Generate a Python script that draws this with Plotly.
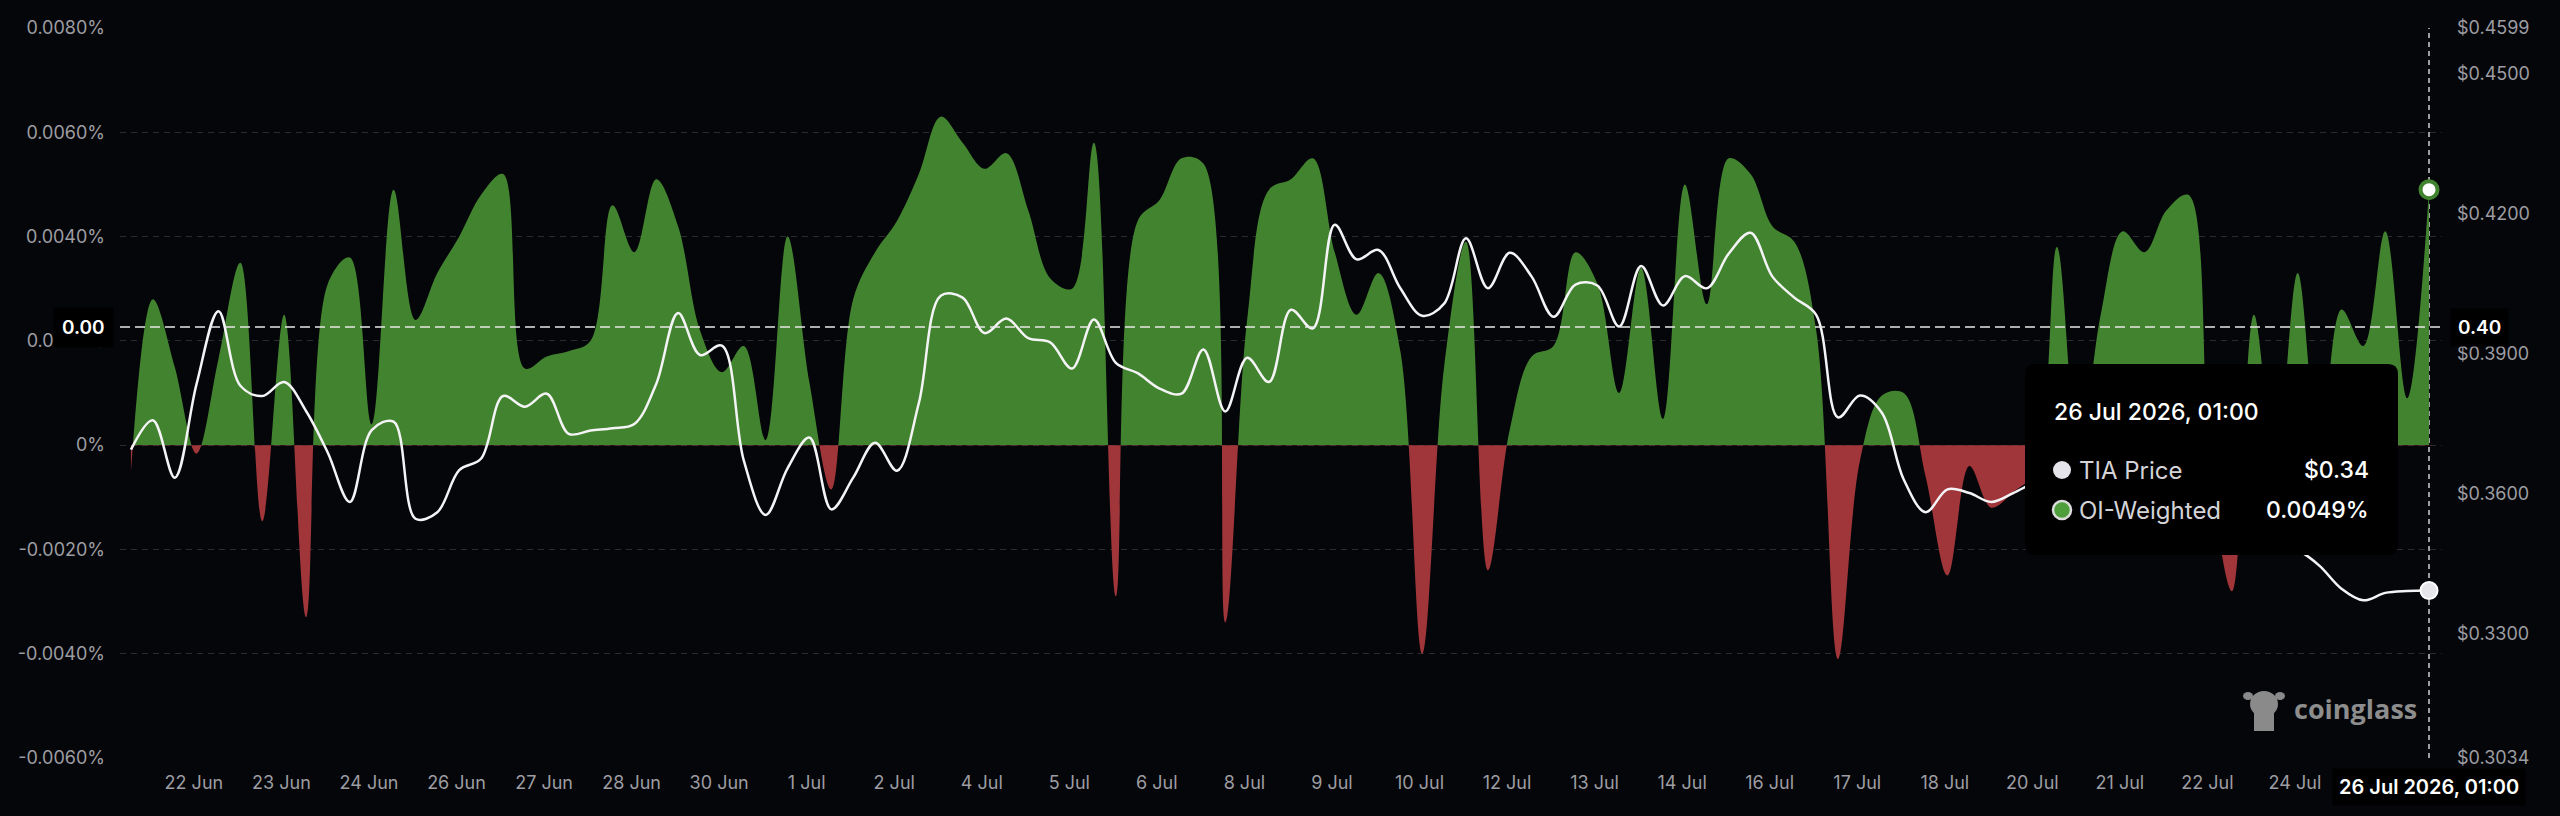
import pandas as pd
import plotly.graph_objects as go

# ---------------- data ----------------
start_time = "2026-06-21 01:00"
funding_pct = [
    -0.0005, 0.0028, 0.0015, -0.00016, 0.00165, 0.0035, -0.00146, 0.0025, -0.0033, 0.0031,
    0.0036, 0.0004, 0.0049, 0.0024, 0.0033, 0.0040, 0.0048, 0.0052, 0.00147, 0.0017,
    0.0018, 0.0020, 0.0046, 0.0037, 0.0051, 0.0042, 0.0022, 0.0014, 0.0019, 0.0001,
    0.0040, 0.0012, -0.00085, 0.0028, 0.0037, 0.0043, 0.0052, 0.0063, 0.0058, 0.0053,
    0.0056, 0.0045, 0.0032, 0.0030, 0.0058, -0.0029, 0.0043, 0.0047, 0.0055, 0.0054,
    -0.0034, 0.0024, 0.0049, 0.0051, 0.0055, 0.0037, 0.0025, 0.0033, 0.0018, -0.0040,
    0.0015, 0.0039, -0.0024, 0.0003, 0.0017, 0.0019, 0.0037, 0.0031, 0.0010, 0.0034,
    0.0005, 0.0050, 0.0027, 0.0055, 0.0052, 0.0042, 0.0039, 0.0022, -0.0041, -0.0003,
    0.00095, 0.0010, -0.0006, -0.0025, -0.0004, -0.0012, -0.0009, -0.0005, 0.0038, -0.0002,
    0.0025, 0.0041, 0.0037, 0.0045, 0.0048, -0.0005, -0.0028, 0.0025, -0.0005, 0.0033,
    -0.0002, 0.0026, 0.0019, 0.0041, 0.0009, 0.0049,
]
tia_price = [
    0.3695, 0.3758, 0.3635, 0.3836, 0.3992, 0.3832, 0.3810, 0.3840, 0.3778, 0.3688,
    0.3583, 0.3737, 0.3755, 0.3547, 0.3561, 0.3651, 0.3676, 0.3810, 0.3787, 0.3815,
    0.3729, 0.3736, 0.3741, 0.3750, 0.3836, 0.3988, 0.3898, 0.3918, 0.3672, 0.3555,
    0.3655, 0.3721, 0.3567, 0.3635, 0.3710, 0.3650, 0.3795, 0.4025, 0.4021, 0.3945,
    0.3976, 0.3934, 0.3925, 0.3869, 0.3974, 0.3881, 0.3859, 0.3826, 0.3815, 0.3910,
    0.3777, 0.3892, 0.3840, 0.3995, 0.3955, 0.4177, 0.4103, 0.4123, 0.4041, 0.3982,
    0.4008, 0.4148, 0.4041, 0.4117, 0.4066, 0.3980, 0.4049, 0.4047, 0.3959, 0.4089,
    0.4004, 0.4067, 0.4041, 0.4115, 0.4160, 0.4066, 0.4021, 0.3984, 0.3764, 0.3811,
    0.3774, 0.3631, 0.3561, 0.3610, 0.3602, 0.3583, 0.3602, 0.3625, 0.3640, 0.3610,
    0.3590, 0.3600, 0.3570, 0.3560, 0.3540, 0.3530, 0.3545, 0.3510, 0.3500, 0.3480,
    0.3446, 0.3397, 0.3372, 0.3388, 0.3392, 0.3393,
]
left_ticks = [-0.006, -0.004, -0.002, 0.0, 0.002, 0.004, 0.006, 0.008]
left_tick_text = ["-0.0060%", "-0.0040%", "-0.0020%", "0%", "0.0020%", "0.0040%", "0.0060%", "0.0080%"]
right_ticks = [0.3034, 0.33, 0.36, 0.39, 0.42, 0.45, 0.4599]
right_tick_text = ["$0.3034", "$0.3300", "$0.3600", "$0.3900", "$0.4200", "$0.4500", "$0.4599"]
x_tick_text = ["22 Jun", "23 Jun", "24 Jun", "26 Jun", "27 Jun", "28 Jun", "30 Jun", "1 Jul", "2 Jul",
               "4 Jul", "5 Jul", "6 Jul", "8 Jul", "9 Jul", "10 Jul", "12 Jul", "13 Jul", "14 Jul",
               "16 Jul", "17 Jul", "18 Jul", "20 Jul", "21 Jul", "22 Jul", "24 Jul"]
crosshair_price = 0.3958

times = pd.date_range(start_time, periods=len(funding_pct), freq="8h")
x_tick_vals = pd.date_range("2026-06-22 00:00", periods=len(x_tick_text), freq="32h")

# ---------------- style ----------------
W, H = 2560, 816
L, R, T, B = 120, 118, 28, 58
BG = "#05060a"
GREEN = "#42832f"
RED = "#a1363a"
GRID = "#2b2c31"
TICK = "#9d9da2"
FONT = "Inter"

PW, PH = W - L - R, H - T - B


def px(x):
    return (x - L) / PW


def py(y):
    return (H - B - y) / PH


def rounded_rect(x0, y0, x1, y1, r):
    """Path (paper coords) of a rounded rectangle given pixel corners."""
    a, b, c, d = px(x0), px(x1), py(y0), py(y1)   # c: top (higher paper y), d: bottom
    rx, ry = r / PW, r / PH
    return (f"M {a+rx},{c} L {b-rx},{c} Q {b},{c} {b},{c-ry} L {b},{d+ry} Q {b},{d} {b-rx},{d} "
            f"L {a+rx},{d} Q {a},{d} {a},{d+ry} L {a},{c-ry} Q {a},{c} {a+rx},{c} Z")


ylo, yhi = left_ticks[0], left_ticks[-1]
plo, phi = right_ticks[0], right_ticks[-1]
cross_funding = ylo + (crosshair_price - plo) / (phi - plo) * (yhi - ylo)

fig = go.Figure()

fig.add_trace(go.Scatter(
    x=times, y=funding_pct, mode="lines", yaxis="y",
    line=dict(width=0, shape="spline", color="rgba(0,0,0,0)"),
    fill="tozeroy",
    fillgradient=dict(type="vertical", start=-0.0001, stop=0.0001,
                      colorscale=[[0, RED], [0.5, RED], [0.5001, GREEN], [1, GREEN]]),
    hoverinfo="skip", showlegend=False,
))
fig.add_trace(go.Scatter(
    x=times, y=tia_price, mode="lines", yaxis="y2",
    line=dict(width=2.5, shape="spline", color="#f4f4f6"),
    hoverinfo="skip", showlegend=False,
))
fig.add_trace(go.Scatter(
    x=[times[-1]], y=[funding_pct[-1]], mode="markers", yaxis="y",
    marker=dict(size=17, color="#ffffff", line=dict(color=GREEN, width=4)),
    hoverinfo="skip", showlegend=False,
))
fig.add_trace(go.Scatter(
    x=[times[-1]], y=[tia_price[-1]], mode="markers", yaxis="y2",
    marker=dict(size=17, color="#e6e6ea", line=dict(color="#ffffff", width=2)),
    hoverinfo="skip", showlegend=False,
))

x_range = [times[0] - pd.Timedelta(hours=4), times[-1] + pd.Timedelta(hours=4.75)]

shapes = [
    # crosshair lines
    dict(type="line", xref="paper", yref="y2", x0=0, x1=1, y0=crosshair_price, y1=crosshair_price,
         line=dict(color="#e8e8e8", width=1.5, dash="10px,5px"), layer="above"),
    dict(type="line", xref="x", yref="paper", x0=times[-1], x1=times[-1], y0=0, y1=1,
         line=dict(color="#d0d0d0", width=1.5, dash="5px,4px"), layer="below"),
    # tooltip box
    dict(type="path", xref="paper", yref="paper", path=rounded_rect(2025, 364, 2398, 555, 10),
         fillcolor="#000000", line=dict(width=0), layer="above"),
    dict(type="circle", xref="paper", yref="paper", x0=px(2053), x1=px(2071), y0=py(479), y1=py(461),
         fillcolor="#e4e4ea", line=dict(width=0), layer="above"),
    dict(type="circle", xref="paper", yref="paper", x0=px(2053), x1=px(2071), y0=py(519), y1=py(501),
         fillcolor="#4f9e3c", line=dict(color="#dcdcdc", width=2.5), layer="above"),
    # watermark icon (simplified)
    dict(type="circle", xref="paper", yref="paper", x0=px(2250), x1=px(2278), y0=py(717), y1=py(691),
         fillcolor="#8a8a8a", line=dict(width=0), layer="below"),
    dict(type="rect", xref="paper", yref="paper", x0=px(2254), x1=px(2274), y0=py(731), y1=py(710),
         fillcolor="#8a8a8a", line=dict(width=0), layer="below"),
    dict(type="circle", xref="paper", yref="paper", x0=px(2243), x1=px(2253), y0=py(700), y1=py(692),
         fillcolor="#8a8a8a", line=dict(width=0), layer="below"),
    dict(type="circle", xref="paper", yref="paper", x0=px(2275), x1=px(2285), y0=py(700), y1=py(692),
         fillcolor="#8a8a8a", line=dict(width=0), layer="below"),
]

annotations = [
    dict(xref="paper", yref="y2", x=0, y=crosshair_price, xanchor="right", yanchor="middle", xshift=-6,
         text=f"{cross_funding:.2f}", showarrow=False, bgcolor="#000000", borderpad=8,
         font=dict(family=FONT, size=19, color="#ffffff", weight=600)),
    dict(xref="paper", yref="y2", x=1, y=crosshair_price, xanchor="left", yanchor="middle", xshift=8,
         text=f"{crosshair_price:.2f}", showarrow=False, bgcolor="#000000", borderpad=7,
         font=dict(family=FONT, size=19, color="#ffffff", weight=600)),
    dict(xref="x", yref="paper", x=times[-1], y=0, xanchor="center", yanchor="top", yshift=-10,
         text=times[-1].strftime("%-d %b %Y, %H:%M"), showarrow=False, bgcolor="#000000", borderpad=6,
         font=dict(family=FONT, size=20, color="#ffffff", weight=600)),
    # tooltip contents
    dict(xref="paper", yref="paper", x=px(2052), y=py(412), xanchor="left", yanchor="middle",
         text=times[-1].strftime("%-d %b %Y, %H:%M"), showarrow=False,
         font=dict(family=FONT, size=23, color="#ffffff", weight=500)),
    dict(xref="paper", yref="paper", x=px(2077), y=py(470), xanchor="left", yanchor="middle",
         text="TIA Price", showarrow=False, font=dict(family=FONT, size=24, color="#d4d4d8")),
    dict(xref="paper", yref="paper", x=px(2371), y=py(470), xanchor="right", yanchor="middle",
         text=f"${tia_price[-1]:.2f}", showarrow=False,
         font=dict(family=FONT, size=23, color="#ffffff", weight=500)),
    dict(xref="paper", yref="paper", x=px(2077), y=py(510), xanchor="left", yanchor="middle",
         text="OI-Weighted", showarrow=False, font=dict(family=FONT, size=24, color="#d4d4d8")),
    dict(xref="paper", yref="paper", x=px(2371), y=py(510), xanchor="right", yanchor="middle",
         text=f"{funding_pct[-1]:.4f}%", showarrow=False,
         font=dict(family=FONT, size=23, color="#ffffff", weight=500)),
    # watermark
    dict(xref="paper", yref="paper", x=px(2292), y=py(708), xanchor="left", yanchor="middle",
         text="coinglass", showarrow=False,
         font=dict(family="Open Sans", size=27, color="#8d8d8d", weight=700)),
]

fig.update_layout(
    width=W, height=H,
    margin=dict(l=L, r=R, t=T, b=B, pad=0),
    paper_bgcolor=BG, plot_bgcolor=BG,
    hovermode=False, showlegend=False,
    font=dict(family=FONT, size=18, color=TICK),
    xaxis=dict(type="date", range=x_range, tickvals=x_tick_vals, ticktext=x_tick_text,
               showgrid=False, zeroline=False, showline=False, ticks="",
               ticklabelstandoff=12, tickfont=dict(family=FONT, size=18, color=TICK)),
    yaxis=dict(range=[ylo, yhi], tickvals=left_ticks, ticktext=left_tick_text,
               showgrid=True, gridcolor=GRID, gridwidth=1, griddash="6px,5px",
               zeroline=False, showline=False, ticks="", ticklabelstandoff=14,
               tickfont=dict(family=FONT, size=18, color=TICK)),
    yaxis2=dict(range=[plo, phi], tickvals=right_ticks, ticktext=right_tick_text,
                overlaying="y", side="right", showgrid=False, zeroline=False, showline=False,
                ticks="", ticklabelstandoff=14, tickfont=dict(family=FONT, size=18, color=TICK)),
    shapes=shapes,
    annotations=annotations,
)

fig.write_html("out.html")
